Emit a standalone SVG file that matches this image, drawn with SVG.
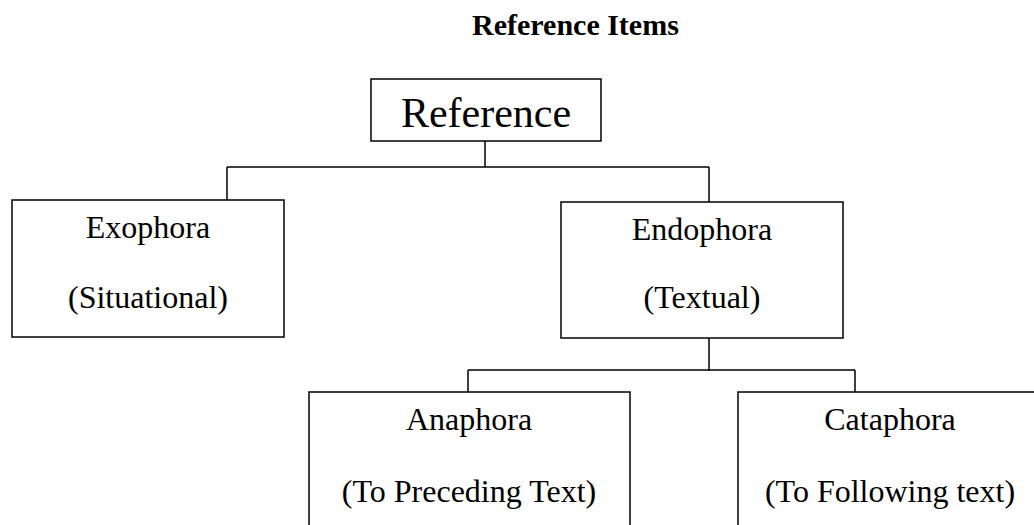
<svg xmlns="http://www.w3.org/2000/svg" width="1034" height="525" viewBox="0 0 1034 525">
<style>
.box{fill:#fff;stroke:#000;stroke-width:1.5}
.ln{fill:none;stroke:#000;stroke-width:1.5}
text{font-family:"Liberation Serif","Times New Roman",serif;fill:#000}
.t{font-size:32px;text-anchor:middle}
</style>
<rect width="1034" height="525" fill="#fff"/>
<text x="472" y="35" style="font-size:30px;font-weight:bold">Reference Items</text>
<g id="connectors">
<path class="ln" d="M485 141V167M227 167H709M227 167V200M709 167V202"/>
<path class="ln" d="M709 338V371M468 370H855M468 370V392M855 370V392"/>
</g>
<g id="reference">
<rect class="box" x="371" y="79" width="230" height="62"/>
<text x="486" y="127" style="font-size:42px;text-anchor:middle">Reference</text>
</g>
<g id="exophora">
<rect class="box" x="12" y="200" width="272" height="137"/>
<text class="t" x="148" y="238">Exophora</text>
<text class="t" x="148" y="308">(Situational)</text>
</g>
<g id="endophora">
<rect class="box" x="561" y="202" width="282" height="136"/>
<text class="t" x="702" y="240">Endophora</text>
<text class="t" x="702" y="308">(Textual)</text>
</g>
<g id="anaphora">
<rect class="box" x="309" y="392" width="321" height="150"/>
<text class="t" x="469" y="430">Anaphora</text>
<text class="t" x="469" y="502">(To Preceding Text)</text>
</g>
<g id="cataphora">
<rect class="box" x="738" y="392" width="310" height="150"/>
<text class="t" x="890" y="430">Cataphora</text>
<text class="t" x="890" y="502">(To Following text)</text>
</g>
</svg>
